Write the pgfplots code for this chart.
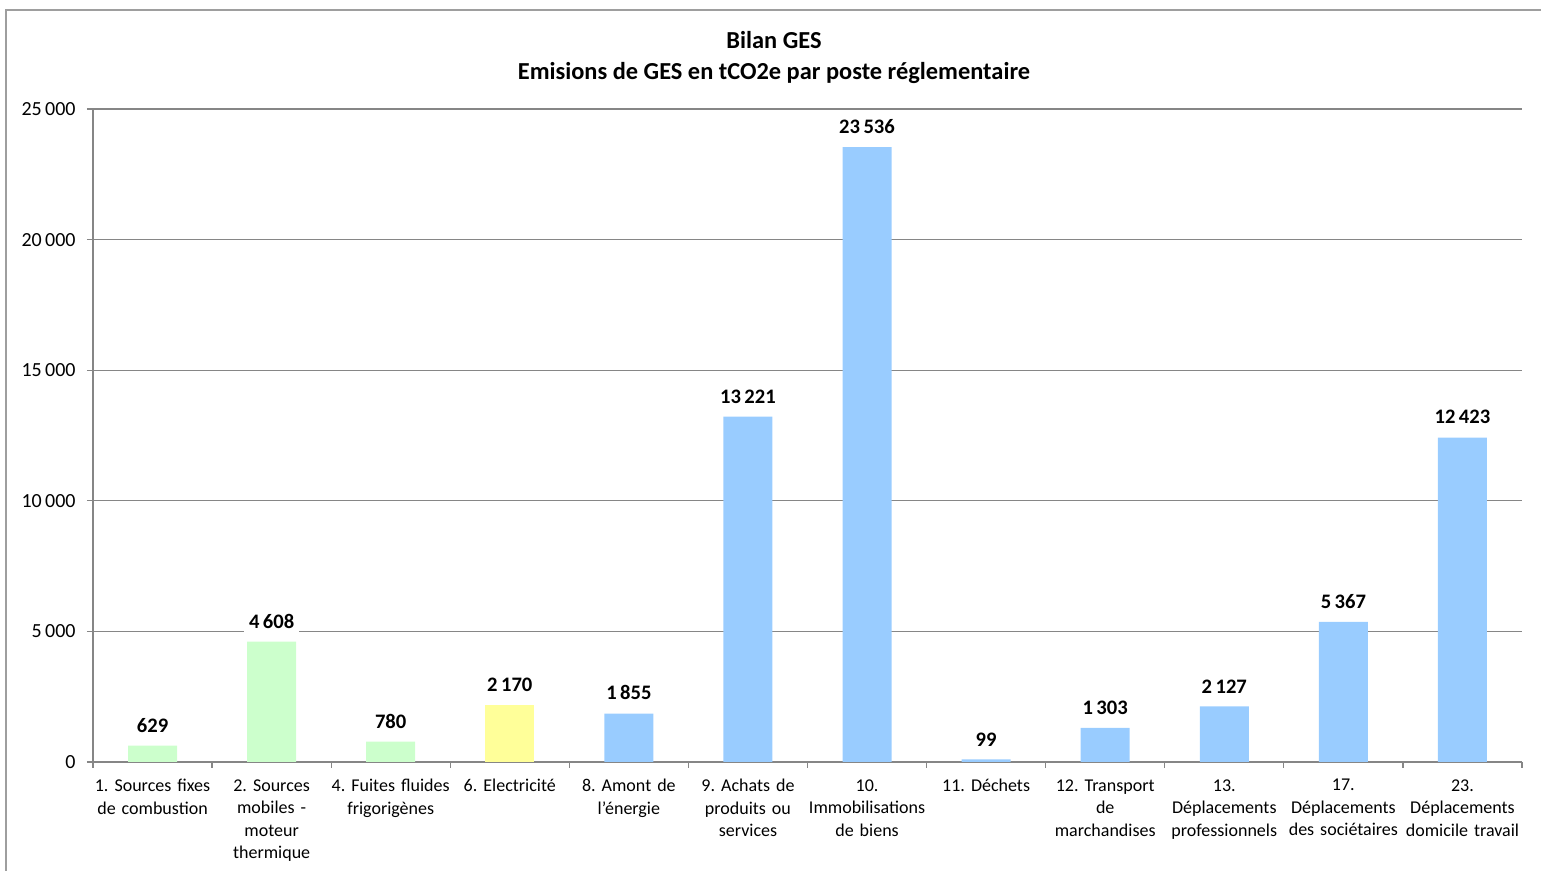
\documentclass[border=0pt]{standalone}
\usepackage{pgfplots}
\pgfplotsset{compat=1.18}
\usepackage{fontspec}
\setmainfont{Carlito}
\frenchspacing
\definecolor{gridgray}{RGB}{134,134,134}
\definecolor{bargreen}{RGB}{204,255,204}
\definecolor{baryellow}{RGB}{255,255,153}
\definecolor{barblue}{RGB}{153,204,255}
\begin{document}
\frenchspacing
\begin{tikzpicture}
\useasboundingbox (0,0) rectangle (770.5pt,435.5pt);
\draw[gridgray!80, line width=0.8pt] (3pt,0) -- (3pt,430.5pt) -- (770.5pt,430.5pt);
\node[font=\bfseries\fontsize{12.2}{15.5}\selectfont, align=center] at (387pt,406.5pt) {Bilan GES\\Emisions de GES en tCO2e par poste réglementaire};
\begin{axis}[
  at={(46.5pt,54.5pt)}, anchor=south west,
  scale only axis, width=714.5pt, height=326.5pt,
  xmin=-0.5, xmax=11.5, ymin=0, ymax=25000,
  ytick={0,5000,...,25000},
  scaled y ticks=false,
  xtick={0,...,11},
  xticklabels={1. Sources fixes\\de combustion, 2. Sources\\mobiles -\\moteur\\thermique, 4. Fuites fluides\\frigorigènes, 6. Electricité, 8. Amont de\\l'énergie, 9. Achats de\\produits ou\\services, 10.\\Immobilisations\\de biens, 11. Déchets, 12. Transport\\de\\marchandises, 13.\\Déplacements\\professionnels, 17.\\Déplacements\\des sociétaires, 23.\\Déplacements\\domicile travail},
  minor xtick={-0.5,0.5,...,11.5},
  major x tick style={draw=none},
  tick align=outside,
  major tick length=3pt, minor tick length=3pt,
  axis x line*=bottom, axis y line*=left,
  axis line style={gridgray, line width=0.65pt, -},
  every tick/.style={gridgray, line width=0.65pt},
  ymajorgrids, major grid style={gridgray, line width=0.65pt},
  /pgf/number format/.cd, fixed, precision=0, 1000 sep={\,}, assume math mode=true,
  /pgfplots/.cd,
  yticklabel style={font=\fontsize{10}{12}\selectfont, inner sep=1pt, xshift=-4.5pt},
  xticklabel style={font=\fontsize{9}{11.25}\selectfont, align=center, text width=62pt, inner sep=1pt, yshift=-4.5pt},
  ybar, bar width=24.5pt, bar shift=0pt,
  nodes near coords,
  every node near coord/.append style={font=\bfseries\fontsize{10.3}{12}\selectfont, fill=white, inner xsep=2.5pt, inner ysep=2.5pt, yshift=4pt},
  clip=false,
]
\addplot[fill=bargreen, draw=none] coordinates {(0,629) (1,4608) (2,780)};
\addplot[fill=baryellow, draw=none] coordinates {(3,2170)};
\addplot[fill=barblue, draw=none] coordinates {(4,1855) (5,13221) (6,23536) (7,99) (8,1303) (9,2127) (10,5367) (11,12423)};
\end{axis}
\end{tikzpicture}
\end{document}
